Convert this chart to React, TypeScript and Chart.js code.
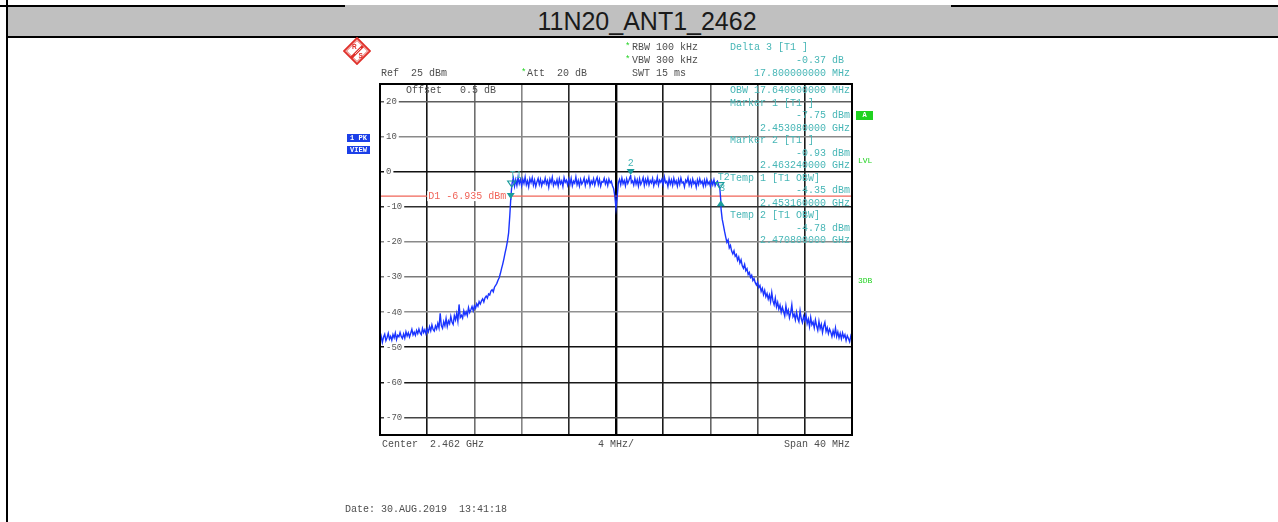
import React, { useEffect, useRef } from 'react';
import { Chart, registerables } from 'chart.js';

Chart.register(...registerables);

// ---- Sweep settings -------------------------------------------------------
const CENTER_GHZ = 2.462;
const SPAN_GHZ = 0.04;
const F_START = CENTER_GHZ - SPAN_GHZ / 2; // 2.442 GHz
const F_STOP = CENTER_GHZ + SPAN_GHZ / 2; // 2.482 GHz
const SWEEP_STEP_GHZ = 0.0001;
const REF_LEVEL_DBM = 25;
const BOTTOM_LEVEL_DBM = -75;

// Graticule lines (4 MHz / div, 10 dB / div)
const xGridGHz = [2.442, 2.446, 2.45, 2.454, 2.458, 2.462, 2.466, 2.47, 2.474, 2.478, 2.482];
const yGridDbm = [20, 10, 0, -10, -20, -30, -40, -50, -60, -70];

// Trace 1 (max peak), one level per 0.1 MHz from 2.442 GHz to 2.482 GHz
const traceDbm = [
  // 2.4420 ..
  -48.4, -46.9, -48.6, -47.1, -46.3, -48.1, -47.2, -46.0, -47.7, -46.9,
  -48.0, -46.4, -47.3, -45.9, -47.8, -46.6, -47.0, -45.8, -46.9, -47.5,
  // 2.4440 ..
  -46.2, -47.4, -45.6, -46.8, -45.9, -47.1, -46.0, -44.9, -46.5, -45.7,
  -46.6, -45.2, -46.1, -44.8, -45.9, -46.4, -44.6, -45.8, -45.0, -46.2,
  // 2.4460 ..
  -44.7, -45.6, -44.1, -45.3, -43.6, -44.9, -45.4, -43.9, -44.8, -43.2,
  -44.5, -40.3, -43.8, -44.6, -42.7, -43.9, -41.8, -44.1, -42.5, -43.3,
  // 2.4480 ..
  -41.2, -42.8, -43.5, -41.0, -42.2, -40.4, -42.6, -37.8, -41.5, -40.9,
  -41.7, -39.6, -40.8, -39.9, -41.0, -38.7, -40.1, -39.3, -38.4, -39.6,
  // 2.4500 ..
  -38.2, -38.9, -37.6, -38.3, -37.0, -37.7, -36.8, -36.2, -37.1, -35.9,
  -35.4, -36.0, -34.8, -35.1, -34.0, -33.6, -34.2, -32.9, -32.4, -31.8,
  // 2.4520 ..
  -30.9, -30.2, -29.0, -27.6, -26.3, -24.8, -23.1, -21.6, -19.8, -17.4,
  -12.5, -6.9, -3.2, -1.8, -4.1, -2.3, -3.9, -1.6, -3.4, -2.2,
  // 2.4540 ..
  -4.0, -2.1, -3.3, -1.5, -3.7, -2.6, -4.3, -2.0, -3.1, -1.7,
  -3.8, -2.4, -4.2, -2.9, -1.9, -3.6, -2.2, -4.0, -2.7, -3.3,
  // 2.4560 ..
  -1.8, -3.5, -2.5, -4.4, -2.1, -3.2, -1.6, -3.9, -2.8, -3.6,
  -2.3, -4.1, -2.0, -3.4, -2.6, -4.2, -1.7, -3.0, -2.4, -3.8,
  // 2.4580 ..
  -2.1, -3.6, -1.9, -4.0, -2.7, -3.3, -1.5, -3.7, -2.5, -4.1,
  -2.2, -3.5, -2.9, -1.8, -3.9, -2.4, -3.2, -1.7, -4.0, -2.6,
  // 2.4600 ..
  -3.4, -2.0, -3.8, -2.5, -1.6, -3.6, -2.2, -4.1, -2.8, -3.0,
  -1.9, -3.5, -2.4, -3.9, -2.1, -3.2, -2.7, -4.0, -4.8, -6.9,
  // 2.4620 ..
  -10.4, -7.2, -3.1, -2.2, -3.7, -1.8, -3.4, -2.5, -4.0, -2.0,
  -3.3, -2.4, -1.4, -3.1, -2.6, -3.8, -1.9, -3.5, -2.3, -4.1,
  // 2.4640 ..
  -2.0, -3.6, -2.8, -1.7, -3.9, -2.2, -3.4, -1.8, -3.7, -2.5,
  -3.2, -1.9, -4.0, -2.6, -3.3, -1.6, -3.8, -2.4, -3.0, -2.1,
  // 2.4660 ..
  -3.7, -1.5, -3.1, -2.7, -4.2, -2.0, -3.5, -2.3, -3.9, -1.9,
  -3.4, -2.6, -4.1, -2.2, -3.6, -1.8, -3.2, -2.9, -4.3, -2.4,
  // 2.4680 ..
  -3.0, -1.7, -3.8, -2.5, -4.0, -2.1, -3.4, -2.8, -4.4, -2.3,
  -3.6, -2.0, -3.3, -2.7, -4.1, -2.4, -3.9, -2.2, -3.5, -2.9,
  // 2.4700 ..
  -4.2, -2.6, -3.7, -2.3, -4.0, -3.1, -2.7, -3.8, -4.78, -10.5,
  -13.5, -15.2, -17.0, -18.6, -20.1, -19.4, -21.7, -21.0, -22.6, -23.4,
  // 2.4720 ..
  -22.5, -24.1, -23.6, -25.2, -24.3, -26.0, -25.1, -26.8, -27.5, -26.4,
  -28.2, -27.6, -29.3, -28.7, -30.1, -29.5, -31.0, -30.4, -31.6, -32.3,
  // 2.4740 ..
  -31.5, -33.0, -32.4, -34.1, -33.2, -35.0, -33.8, -35.6, -34.7, -36.3,
  -35.1, -37.0, -34.4, -36.8, -37.9, -36.0, -38.5, -37.2, -39.1, -38.0,
  // 2.4760 ..
  -40.0, -38.6, -39.8, -41.1, -38.2, -40.5, -39.4, -41.6, -40.2, -37.9,
  -41.3, -40.6, -42.2, -40.0, -41.8, -42.7, -39.6, -41.9, -43.0, -41.2,
  // 2.4780 ..
  -42.4, -40.8, -43.3, -42.0, -44.1, -41.5, -43.6, -42.8, -44.5, -42.2,
  -43.9, -45.2, -42.6, -44.7, -43.5, -45.8, -44.0, -42.9, -45.5, -44.4,
  // 2.4800 ..
  -46.1, -44.8, -45.7, -47.0, -45.3, -46.6, -44.5, -46.9, -45.6, -47.3,
  -46.0, -47.6, -45.9, -47.2, -46.4, -48.1, -46.7, -47.5, -48.4, -46.8,
  // 2.4820
  -47.9,
];

// Markers: 1, 2, delta 3, OBW temp markers T1 / T2
const markerTags = ['', '2', '3', 'T1', 'T2'];
const markerShapes = ['down', 'down', 'up', 'downOpen', 'downOpen'];
const markerFreqGHz = [2.45308, 2.46324, 2.47088, 2.45316, 2.4708];
const markerDbm = [-7.75, -0.93, -8.12, -4.35, -4.78];

// Display line D1
const displayLineDbm = -6.935;

// ---- Styles -----------------------------------------------------------------
const MONO = '"Liberation Mono", "DejaVu Sans Mono", monospace';
const GRAY_TEXT = '#4e4e4e';
const TEAL_TEXT = '#47b6b6';
const MARKER_TEAL = '#1a9c9c';
const D1_RED = '#f06459';
const TRACE_BLUE = '#1a34ff';
const GREEN = '#1fd21f';
const VIEW_BLUE = '#1b3fe8';

const vGridColors = ['#000', '#151515', '#6e6e6e', '#858585', '#262626', '#000', '#1a1a1a', '#666', '#4a4a4a', '#1a1a1a', '#000'];
const hGridColors = ['#5e5e5e', '#8a8a8a', '#111', '#2e2e2e', '#8a8a8a', '#7a7a7a', '#919191', '#111', '#1a1a1a', '#444'];

const W = 1278;
const H = 522;
const PLOT = { left: 380, top: 84, right: 852, bottom: 435 };

function drawTriangle(ctx: CanvasRenderingContext2D, px: number, py: number, shape: string) {
  const hw = 4;
  const h = 6;
  ctx.beginPath();
  if (shape === 'up') {
    ctx.moveTo(px, py);
    ctx.lineTo(px - hw, py + h);
    ctx.lineTo(px + hw, py + h);
  } else {
    ctx.moveTo(px, py);
    ctx.lineTo(px - hw, py - h);
    ctx.lineTo(px + hw, py - h);
  }
  ctx.closePath();
  if (shape === 'downOpen') {
    ctx.lineWidth = 1.2;
    ctx.stroke();
  } else {
    ctx.fill();
  }
}

const analyzerOverlay = {
  id: 'analyzerOverlay',
  beforeDatasetsDraw(chart: any) {
    const { ctx, chartArea: a, scales } = chart;
    const xs = scales.x;
    const ys = scales.y;
    const yd = ys.getPixelForValue(displayLineDbm);
    ctx.save();
    ctx.strokeStyle = D1_RED;
    ctx.lineWidth = 1.4;
    ctx.beginPath();
    ctx.moveTo(a.left, yd);
    ctx.lineTo(a.right, yd);
    ctx.stroke();

    const label = `D1 ${displayLineDbm.toFixed(3)} dBm`;
    ctx.font = `10px ${MONO}`;
    const lx = xs.getPixelForValue(xGridGHz[1]) + 1;
    const w = ctx.measureText(label).width;
    ctx.fillStyle = '#fff';
    ctx.fillRect(lx - 1, yd - 5, w + 4, 10);
    ctx.fillStyle = D1_RED;
    ctx.textBaseline = 'middle';
    ctx.textAlign = 'left';
    ctx.fillText(label, lx, yd + 0.5);
    ctx.restore();
  },
  afterDatasetsDraw(chart: any) {
    const { ctx, chartArea: a, scales } = chart;
    const xs = scales.x;
    const ys = scales.y;
    ctx.save();
    // frame
    ctx.strokeStyle = '#000';
    ctx.lineWidth = 2;
    ctx.strokeRect(a.left, a.top, a.right - a.left, a.bottom - a.top);

    // markers
    ctx.strokeStyle = MARKER_TEAL;
    ctx.font = `10px ${MONO}`;
    ctx.textBaseline = 'middle';
    markerFreqGHz.forEach((f, i) => {
      const px = xs.getPixelForValue(f);
      const py = ys.getPixelForValue(markerDbm[i]);
      ctx.fillStyle = MARKER_TEAL;
      drawTriangle(ctx, px, py, markerShapes[i]);
      const tag = markerTags[i];
      if (!tag) return;
      ctx.fillStyle = TEAL_TEXT;
      if (tag.startsWith('T')) {
        ctx.textAlign = 'left';
        ctx.fillText(tag, px - 2, py - 11.5);
      } else {
        ctx.textAlign = 'center';
        ctx.fillText(tag, px + (markerShapes[i] === 'up' ? 1.5 : 0), py - 11.5);
      }
    });
    ctx.restore();
  },
};

function Label(props: { x: number; y: number; text: string; color?: string; size?: number; right?: boolean; bold?: boolean }) {
  const { x, y, text, color = GRAY_TEXT, size = 10, right = false, bold = false } = props;
  const style: any = {
    position: 'absolute',
    top: y - size / 2,
    font: `${bold ? 'bold ' : ''}${size}px ${MONO}`,
    lineHeight: `${size}px`,
    color,
    whiteSpace: 'pre',
  };
  if (right) style.right = W - x;
  else style.left = x;
  return <div style={style}>{text}</div>;
}

function Star(props: { x: number; y: number }) {
  return (
    <div style={{ position: 'absolute', left: props.x, top: props.y - 5, font: `9px ${MONO}`, lineHeight: '9px', color: GREEN }}>*</div>
  );
}

function SideBox(props: { x: number; y: number; w: number; h: number; text: string; bg: string; size?: number }) {
  const { x, y, w, h, text, bg, size = 7 } = props;
  return (
    <div
      style={{
        position: 'absolute', left: x, top: y, width: w, height: h, background: bg, color: '#fff',
        font: `bold ${size}px ${MONO}`, lineHeight: `${h}px`, textAlign: 'center', whiteSpace: 'pre',
      }}
    >
      {text}
    </div>
  );
}

function RsLogo() {
  return (
    <svg style={{ position: 'absolute', left: 343, top: 37 }} width={28} height={28} viewBox="0 0 28 28">
      <polygon points="14,1 27,14 14,27 1,14" fill="none" stroke="#e0302a" strokeWidth={1.8} />
      <polygon points="14,3.5 24.5,14 14,24.5 3.5,14" fill="none" stroke="#e0302a" strokeWidth={0.8} />
      <polygon points="19,8 21,10 9,22 7,20" fill="#e0302a" />
      <line x1="18" y1="11" x2="12" y2="17" stroke="#fff" strokeWidth={0.7} />
      <text x="9" y="12" fontSize="6.5" fill="#e0302a" fontFamily="Liberation Sans" fontWeight="bold">R</text>
      <text x="15.5" y="20.5" fontSize="6.5" fill="#e0302a" fontFamily="Liberation Sans" fontWeight="bold">S</text>
    </svg>
  );
}

export default function App() {
  const canvasRef = useRef<HTMLCanvasElement>(null);

  useEffect(() => {
    const canvas = canvasRef.current;
    if (!canvas) return;

    const tracePoints = [
      ...traceDbm.map((y, i) => ({ x: F_START + i * SWEEP_STEP_GHZ, y })),
      ...markerFreqGHz.map((x, i) => ({ x, y: markerDbm[i] })),
    ].sort((p, q) => p.x - q.x);

    const chart = new Chart(canvas, {
      type: 'line',
      data: {
        datasets: [
          {
            data: tracePoints,
            borderColor: TRACE_BLUE,
            borderWidth: 1.4,
            pointRadius: 0,
            tension: 0,
          },
        ],
      },
      options: {
        animation: false,
        responsive: false,
        devicePixelRatio: 1,
        events: [],
        layout: {
          padding: { left: PLOT.left, top: PLOT.top, right: W - PLOT.right, bottom: H - PLOT.bottom },
        },
        plugins: { legend: { display: false }, tooltip: { enabled: false } },
        scales: {
          x: {
            type: 'linear',
            min: F_START,
            max: F_STOP,
            afterBuildTicks: (axis: any) => {
              axis.ticks = xGridGHz.map((value) => ({ value }));
            },
            afterFit: (axis: any) => {
              axis.height = 0;
            },
            ticks: { display: false },
            grid: {
              drawTicks: false,
              color: (c: any) => vGridColors[c.index] || '#333',
              lineWidth: (c: any) => (c.index === 5 ? 2.4 : 1.6),
            },
            border: { display: false },
          },
          y: {
            type: 'linear',
            min: BOTTOM_LEVEL_DBM,
            max: REF_LEVEL_DBM,
            afterBuildTicks: (axis: any) => {
              axis.ticks = yGridDbm.map((value) => ({ value }));
            },
            afterFit: (axis: any) => {
              axis.width = 0;
            },
            ticks: {
              mirror: true,
              padding: 6,
              color: '#555',
              font: { family: MONO, size: 9 },
              showLabelBackdrop: true,
              backdropColor: '#fff',
              backdropPadding: { top: 0, bottom: 0, left: 2, right: 2 },
            },
            grid: {
              drawTicks: false,
              color: (c: any) => hGridColors[c.index] || '#333',
              lineWidth: 1.6,
            },
            border: { display: false },
          },
        },
      },
      plugins: [analyzerOverlay],
    } as any);

    return () => chart.destroy();
  }, []);

  const d = markerDbm;
  const f = markerFreqGHz;
  const rowY = (k: number) => 91 + 12.5 * k;
  const readoutRight = 850;

  return (
    <div style={{ position: 'absolute', left: 0, top: 0, width: W, height: H, background: '#fff', overflow: 'hidden' }}>
      {/* title bar */}
      <div style={{ position: 'absolute', left: 8, top: 7, width: W - 8, height: 29, background: '#c0c0c0' }} />
      <div style={{ position: 'absolute', left: 345, top: 5, width: 606, height: 2, background: '#c0c0c0' }} />
      <div style={{ position: 'absolute', left: 0, top: 5, width: 345, height: 2, background: '#000' }} />
      <div style={{ position: 'absolute', left: 951, top: 5, width: W - 951, height: 2, background: '#000' }} />
      <div style={{ position: 'absolute', left: 8, top: 36, width: W - 8, height: 2, background: '#000' }} />
      <div style={{ position: 'absolute', left: 6, top: 0, width: 2, height: H, background: '#000' }} />
      <div
        style={{
          position: 'absolute', left: 647, top: 9, transform: 'translateX(-50%)',
          font: '25px "Liberation Sans", Arial, sans-serif', lineHeight: '25px', color: '#1a1a1a', whiteSpace: 'pre',
        }}
      >
        11N20_ANT1_2462
      </div>

      <canvas ref={canvasRef} width={W} height={H} style={{ position: 'absolute', left: 0, top: 0, width: W, height: H }} />

      <RsLogo />

      {/* instrument settings */}
      <Star x={625} y={48} />
      <Label x={632} y={48} text="RBW 100 kHz" />
      <Star x={625} y={61} />
      <Label x={632} y={61} text="VBW 300 kHz" />
      <Label x={381} y={74} text="Ref  25 dBm" />
      <Star x={521} y={74} />
      <Label x={527} y={74} text="Att  20 dB" />
      <Label x={632} y={74} text="SWT 15 ms" />

      {/* delta marker readout */}
      <Label x={730} y={48} text="Delta 3 [T1 ]" color={TEAL_TEXT} />
      <Label x={readoutRight} y={61} right text={`${(d[2] - d[0]).toFixed(2)} dB `} color={TEAL_TEXT} />
      <Label x={readoutRight} y={74} right text={`${((f[2] - f[0]) * 1000).toFixed(9)} MHz`} color={TEAL_TEXT} />

      {/* in-graticule info */}
      <Label x={406} y={rowY(0)} text="Offset   0.5 dB" />
      <Label x={730} y={rowY(0)} text={`OBW ${((f[4] - f[3]) * 1000).toFixed(9)} MHz`} color={TEAL_TEXT} />

      <Label x={730} y={rowY(1)} text="Marker 1 [T1 ]" color={TEAL_TEXT} />
      <Label x={readoutRight} y={rowY(2)} right text={`${d[0].toFixed(2)} dBm`} color={TEAL_TEXT} />
      <Label x={readoutRight} y={rowY(3)} right text={`${f[0].toFixed(9)} GHz`} color={TEAL_TEXT} />

      <Label x={730} y={rowY(4)} text="Marker 2 [T1 ]" color={TEAL_TEXT} />
      <Label x={readoutRight} y={rowY(5)} right text={`${d[1].toFixed(2)} dBm`} color={TEAL_TEXT} />
      <Label x={readoutRight} y={rowY(6)} right text={`${f[1].toFixed(9)} GHz`} color={TEAL_TEXT} />

      <Label x={730} y={rowY(7)} text="Temp 1 [T1 OBW]" color={TEAL_TEXT} />
      <Label x={readoutRight} y={rowY(8)} right text={`${d[3].toFixed(2)} dBm`} color={TEAL_TEXT} />
      <Label x={readoutRight} y={rowY(9)} right text={`${f[3].toFixed(9)} GHz`} color={TEAL_TEXT} />

      <Label x={730} y={rowY(10)} text="Temp 2 [T1 OBW]" color={TEAL_TEXT} />
      <Label x={readoutRight} y={rowY(11)} right text={`${d[4].toFixed(2)} dBm`} color={TEAL_TEXT} />
      <Label x={readoutRight} y={rowY(12)} right text={`${f[4].toFixed(9)} GHz`} color={TEAL_TEXT} />

      {/* side indicators */}
      <SideBox x={347} y={134} w={23} h={8} text="1 PK" bg={VIEW_BLUE} />
      <SideBox x={347} y={146} w={23} h={8} text="VIEW" bg={VIEW_BLUE} />
      <SideBox x={856} y={111} w={17} h={9} text="A" bg={GREEN} />
      <Label x={858} y={160.5} text="LVL" color={GREEN} size={8} />
      <Label x={858} y={281} text="3DB" color={GREEN} size={8} />

      {/* frequency axis annotation */}
      <Label x={382} y={445} text="Center  2.462 GHz" />
      <Label x={598} y={445} text="4 MHz/" />
      <Label x={850} y={445} right text="Span 40 MHz" />

      <Label x={345} y={510} text="Date: 30.AUG.2019  13:41:18" />
    </div>
  );
}
